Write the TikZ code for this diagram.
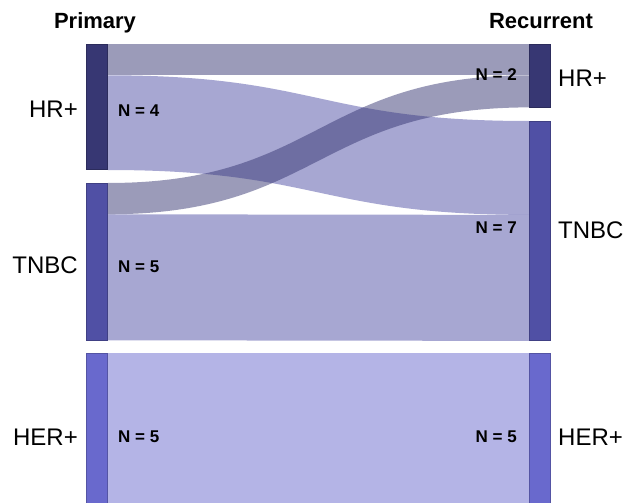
\documentclass[tikz,border=0pt]{standalone}
\usepackage{fontspec}
\setmainfont{Liberation Sans}
\usepackage{tikz}
\usepackage{xcolor}
\usetikzlibrary{positioning,backgrounds}
\definecolor{hrcol}{RGB}{55,55,115}
\definecolor{tncol}{RGB}{80,80,165}
\definecolor{hecol}{RGB}{105,105,205}

\begin{document}
\begin{tikzpicture}[x=1pt,y=-1pt,
    bar/.style={rectangle,minimum width=21pt,inner sep=0pt,anchor=north west,line width=0.8pt},
    flow/.style={opacity=0.5},
    lbl/.style={font=\fontsize{24}{24}\selectfont,inner sep=0pt},
    cnt/.style={font=\bfseries\fontsize{17}{17}\selectfont,inner sep=0pt},
    hdr/.style={font=\bfseries\fontsize{22}{22}\selectfont,inner sep=0pt,anchor=base}]
        \useasboundingbox (0,0) rectangle (627,503);

        % bars, one unit = 31.3
        \node[bar,fill=hrcol,draw=hrcol!80!black,minimum height=125.2pt] (pHR) at (86,44) {};
        \node[bar,fill=tncol,draw=tncol!80!black,minimum height=156.5pt] (pTN) at (86,183) {};
        \node[bar,fill=hecol,draw=hecol!80!black,minimum height=156.5pt] (pHE) at (86,353) {};
        \node[bar,fill=hrcol,draw=hrcol!80!black,minimum height=62.6pt] (rHR) at (529,44) {};
        \node[bar,fill=tncol,draw=tncol!80!black,minimum height=219.1pt] (rTN) at (529,121) {};
        \node[bar,fill=hecol,draw=hecol!80!black,minimum height=156.5pt] (rHE) at (529,353) {};

        % flows
        \begin{scope}[on background layer]
        \fill[flow,hrcol] (pHR.north east) -- (rHR.north west) -- ([yshift=-31.3pt]rHR.north west)
            -- ([yshift=-31.3pt]pHR.north east) -- cycle;
        \fill[flow,tncol] ([yshift=-31.3pt]pHR.north east) .. controls +(211,0) and +(-211,0) .. (rTN.north west)
            -- ([yshift=-93.9pt]rTN.north west) .. controls +(-211,0) and +(211,0) .. (pHR.south east) -- cycle;
        \fill[flow,hrcol] (pTN.north east) .. controls +(211,0) and +(-211,0) .. ([yshift=-31.3pt]rHR.north west)
            -- (rHR.south west) .. controls +(-211,0) and +(211,0) .. ([yshift=-31.3pt]pTN.north east) -- cycle;
        \fill[flow,tncol] ([yshift=-31.3pt]pTN.north east) -- ([yshift=-93.9pt]rTN.north west)
            -- (rTN.south west) -- (pTN.south east) -- cycle;
        \fill[flow,hecol] (pHE.north east) -- (rHE.north west) -- (rHE.south west) -- (pHE.south east) -- cycle;
        \end{scope}

        % headers
        \node[hdr] (hPrim) at (95,29) {Primary};
        \node[hdr] (hRec) at (541,29) {Recurrent};

        % group names
        \node[lbl,anchor=east] (lpHR) at (78,109) {HR+};
        \node[lbl,anchor=east] (lpTN) at (78,265) {TNBC};
        \node[lbl,anchor=east] (lpHE) at (78,437) {HER+};
        \node[lbl,anchor=west] (lrHR) at (558,78) {HR+};
        \node[lbl,anchor=west] (lrTN) at (558,230) {TNBC};
        \node[lbl,anchor=west] (lrHE) at (558,437) {HER+};

        % counts
        \node[cnt,anchor=west] (npHR) at (118,111) {N = 4};
        \node[cnt,anchor=west] (npTN) at (118,267) {N = 5};
        \node[cnt,anchor=west] (npHE) at (118,437) {N = 5};
        \node[cnt,anchor=east] (nrHR) at (517,75) {N = 2};
        \node[cnt,anchor=east] (nrTN) at (517,228) {N = 7};
        \node[cnt,anchor=east] (nrHE) at (517,437) {N = 5};
    \end{tikzpicture}
\end{document}
